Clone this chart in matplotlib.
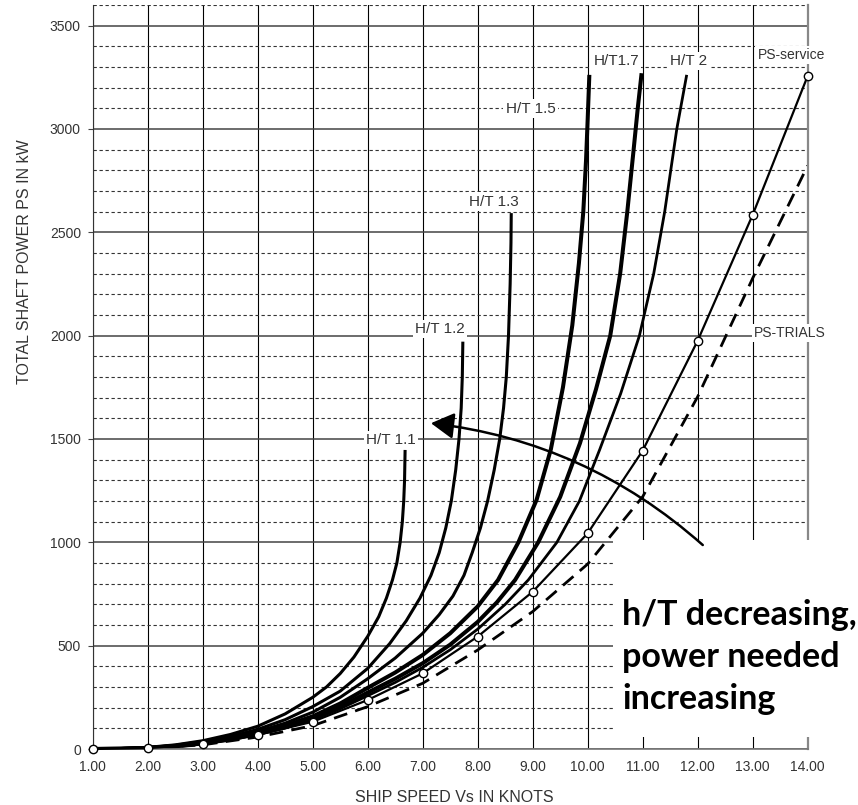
import matplotlib.pyplot as plt
from matplotlib.patches import Rectangle, FancyArrowPatch
from matplotlib.ticker import MultipleLocator

plt.rcParams['font.family'] = ['Liberation Sans', 'DejaVu Sans']

# ship speed (knots) / total shaft power (kW)
speed = [1, 2, 3, 4, 5, 6, 7, 8, 9, 10, 11, 12, 13, 14]
ps_service = [0, 4, 25, 68, 132, 237, 366, 544, 761, 1044, 1444, 1976, 2585, 3257]
ps_trials = [0, 3, 20, 58, 113, 205, 318, 479, 665, 895, 1221, 1705, 2278, 2823]

# shallow water curves, H/T = water depth / draught
ht11_v = [1, 1.5, 2, 2.5, 3, 3.5, 4, 4.5, 5, 5.25, 5.5, 5.75, 6.0, 6.2, 6.34,
          6.45, 6.53, 6.59, 6.63, 6.655, 6.67, 6.68]
ht11_p = [0, 2, 8, 20, 40, 70, 110, 170, 250, 300, 365, 445, 545, 640, 730,
          818, 900, 1000, 1100, 1200, 1300, 1447]

ht12_v = [1, 1.5, 2, 2.5, 3, 3.5, 4, 4.5, 5, 5.5, 6, 6.4, 6.7, 6.95, 7.15, 7.3,
          7.42, 7.52, 7.6, 7.66, 7.7, 7.72, 7.73]
ht12_p = [0, 2, 7, 18, 36, 60, 95, 142, 205, 280, 390, 510, 620, 730, 840, 950,
          1070, 1200, 1350, 1500, 1650, 1800, 1971]

ht13_v = [1, 1.5, 2, 2.5, 3, 3.5, 4, 4.5, 5, 5.5, 6, 6.5, 7, 7.3, 7.55, 7.75,
          7.9, 8.05, 8.18, 8.3, 8.4, 8.47, 8.52, 8.56, 8.59, 8.605, 8.61]
ht13_p = [0, 2, 6, 16, 32, 54, 85, 125, 178, 250, 340, 440, 560, 650, 740, 840,
          950, 1070, 1200, 1350, 1500, 1650, 1800, 2000, 2250, 2450, 2593]

ht15_v = [1, 1.5, 2, 2.5, 3, 3.5, 4, 4.5, 5, 5.5, 6, 6.5, 7, 7.5, 8, 8.37, 8.74,
          9.07, 9.33, 9.55, 9.72, 9.84, 9.92, 9.97, 10.0, 10.03]
ht15_p = [0, 1.5, 5, 14, 29, 49, 78, 113, 158, 220, 296, 370, 455, 560, 690, 818,
          1000, 1205, 1450, 1750, 2050, 2350, 2600, 2850, 3050, 3262]

ht17_v = [1, 1.5, 2, 2.5, 3, 3.5, 4, 4.5, 5, 5.5, 6, 6.5, 7, 7.5, 8, 8.35, 8.68,
          9.1, 9.5, 9.86, 10.15, 10.41, 10.59, 10.72, 10.835, 10.91, 10.98]
ht17_p = [0, 1.5, 5, 13, 27, 46, 73, 106, 148, 205, 273, 340, 415, 505, 615, 710,
          818, 1000, 1220, 1480, 1740, 2000, 2300, 2600, 2900, 3100, 3270]

ht20_v = [1, 1.5, 2, 2.5, 3, 3.5, 4, 4.5, 5, 5.5, 6, 6.5, 7, 7.5, 8, 8.5, 8.92,
          9.44, 9.85, 10.22, 10.6, 10.94, 11.2, 11.4, 11.62, 11.8]
ht20_p = [0, 1.5, 5, 13, 26, 44, 70, 102, 141, 195, 258, 322, 395, 480, 580, 700,
          818, 1000, 1200, 1450, 1720, 2000, 2300, 2600, 3000, 3262]

W, H = 858, 805
fig = plt.figure(figsize=(W / 100, H / 100), dpi=100)
ax = fig.add_axes([92.7 / W, 1 - 749 / H, (807.7 - 92.7) / W, (749 - 5) / H])

ax.set_xlim(1, 14)
ax.set_ylim(0, 3600)
ax.yaxis.set_minor_locator(MultipleLocator(100))
ax.set_xticks(speed)
ax.set_xticklabels([f'{v:.2f}' for v in speed])
ax.set_yticks(range(0, 3501, 500))

ax.grid(axis='x', which='major', color='black', lw=0.8)
ax.grid(axis='y', which='major', color='#444444', lw=1.1)
ax.grid(axis='y', which='minor', color='#333333', lw=0.8, linestyle=(0, (3, 2.4)))
ax.tick_params(axis='x', length=0, pad=8, labelsize=10, labelcolor='#333333')
ax.tick_params(axis='y', which='major', length=3.5, pad=5, labelsize=10,
               labelcolor='#333333', color='#444444')
ax.tick_params(axis='y', which='minor', length=0)

ax.spines['top'].set_visible(False)
ax.spines['left'].set_color('#333333')
ax.spines['bottom'].set_color('#777777')
ax.spines['bottom'].set_linewidth(1.2)
ax.spines['right'].set_color('#888888')
ax.spines['right'].set_linewidth(1.6)

curves = [
    (ht11_v, ht11_p, 2.2),
    (ht12_v, ht12_p, 2.2),
    (ht13_v, ht13_p, 2.2),
    (ht15_v, ht15_p, 2.9),
    (ht17_v, ht17_p, 2.9),
    (ht20_v, ht20_p, 2.0),
]
for v, p, lw in curves:
    ax.plot(v, p, color='black', lw=lw, solid_capstyle='butt',
            solid_joinstyle='round', zorder=2)

ax.plot(speed, ps_trials, color='black', lw=2.0, linestyle=(0, (5, 3)), zorder=2)
ax.plot(speed, ps_service, color='black', lw=1.6, marker='o', ms=6,
        mfc='white', mec='black', mew=1.0, zorder=4, clip_on=False)

lbl = dict(ha='center', va='center', fontsize=11, color='#333333', zorder=3,
           bbox=dict(boxstyle='square,pad=0.15', fc='white', ec='none'))
ax.text(6.42, 1495, 'H/T 1.1', **lbl)
ax.text(7.32, 2033, 'H/T 1.2', **lbl)
ax.text(8.30, 2648, 'H/T 1.3', **lbl)
ax.text(8.96, 3098, 'H/T 1.5', **lbl)
ax.text(10.52, 3330, 'H/T1.7', **lbl)
ax.text(11.84, 3330, 'H/T 2', **lbl)
lbl['fontsize'] = 10
ax.text(13.70, 3359, 'PS-service', clip_on=False, **lbl)
ax.text(13.67, 2014, 'PS-TRIALS', clip_on=False, **lbl)

# white panel behind the note
ax.add_patch(Rectangle((613 / W, 1 - 737 / H), (W - 613) / W, (737 - 540) / H,
                       transform=fig.transFigure, fc='white', ec='none',
                       clip_on=False, zorder=3))

arrow = FancyArrowPatch((12.13, 978), (7.10, 1578),
                        connectionstyle='arc3,rad=0.16',
                        arrowstyle='-|>,head_length=0.7,head_width=0.4',
                        mutation_scale=20, color='black', lw=1.8, zorder=5)
ax.add_patch(arrow)

fig.text(622 / W, 1 - 657 / H, 'h/T decreasing,\npower needed\nincreasing',
         ha='left', va='center', fontsize=24.5, fontweight='bold',
         family='Lato', linespacing=1.4, color='black', zorder=6)

fig.text(454 / W, 1 - 797 / H, 'SHIP SPEED Vs IN KNOTS', ha='center', va='center',
         fontsize=11.5, color='#333333')
fig.text(25 / W, 1 - 262 / H, 'TOTAL SHAFT POWER PS IN kW', ha='center', va='center',
         rotation=90, fontsize=11.5, color='#333333')

fig.savefig('out.png', dpi=100)
